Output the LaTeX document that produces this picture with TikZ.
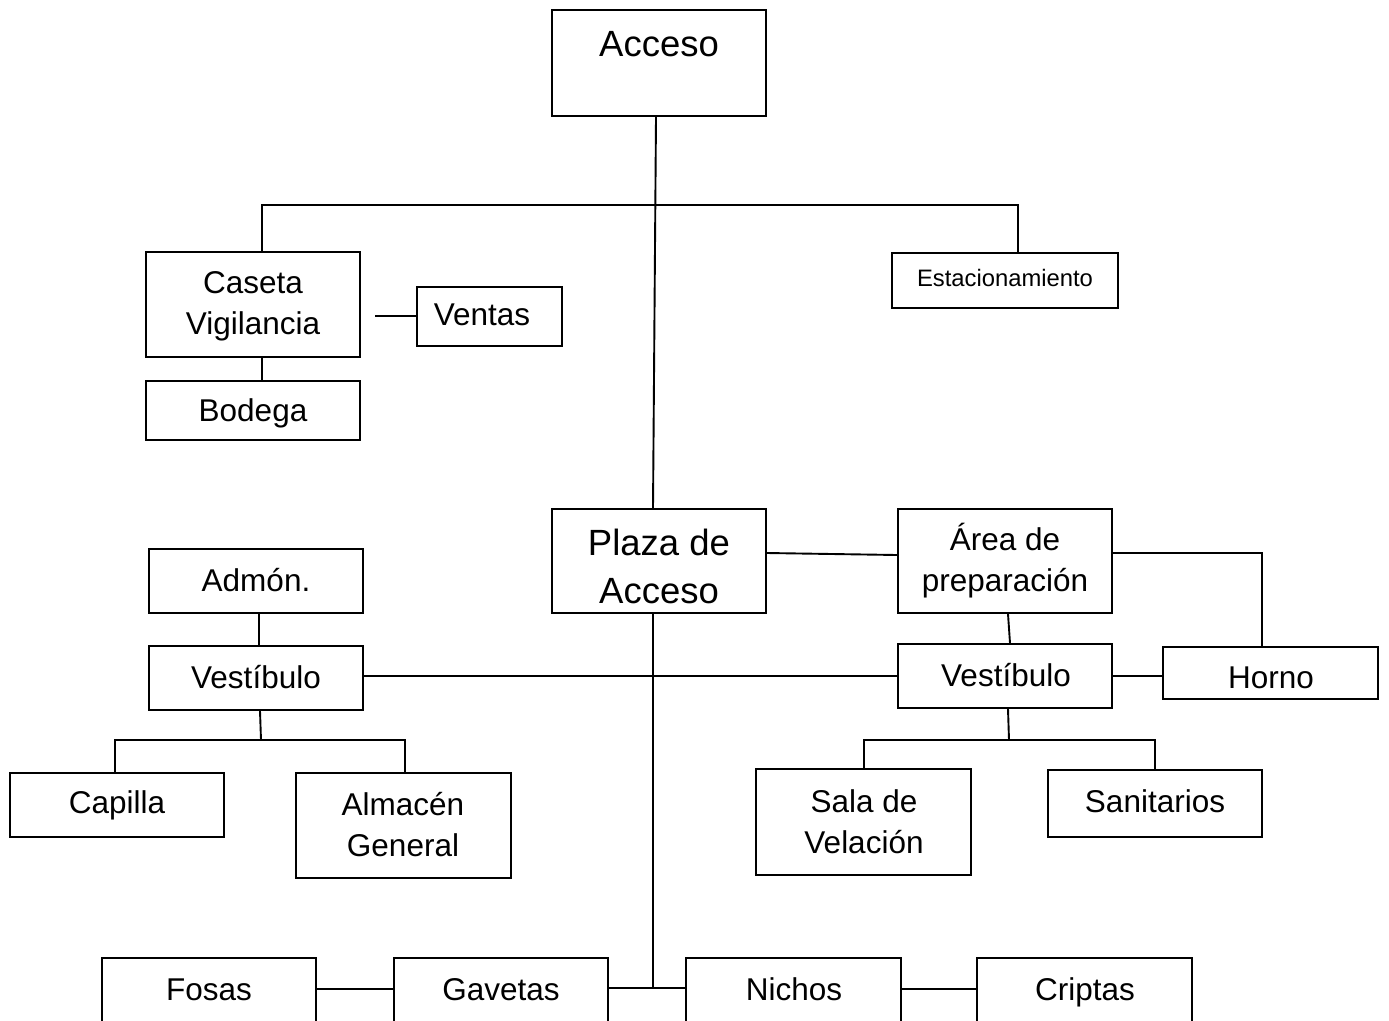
\documentclass[tikz,border=0pt]{standalone}
\usepackage{fontspec}
\setmainfont{Liberation Sans}
\usetikzlibrary{fit}
\begin{document}
\begin{tikzpicture}[x=1pt,y=-1pt,
  box/.style={draw, line width=2pt, inner sep=0pt, rectangle},
  wire/.style={line width=1.9pt},
  lbl/.style={font=\fontsize{31.5}{41}\selectfont, align=center, inner sep=0pt},
  biglbl/.style={font=\fontsize{36.5}{48}\selectfont, align=center, inner sep=0pt},
  smalllbl/.style={font=\fontsize{23.8}{29}\selectfont, inner sep=0pt}]
\useasboundingbox (0,0) rectangle (1389,1020);

% boxes
\node[box, fit={(552,10) (766,116)}] (acceso) {};
\node[box, fit={(146,252) (360,357)}] (caseta) {};
\node[box, fit={(417,287) (562,346)}] (ventas) {};
\node[box, fit={(146,381) (360,440)}] (bodega) {};
\node[box, fit={(892,253) (1118,308)}] (estac) {};
\node[box, fit={(552,509) (766,613)}] (plaza) {};
\node[box, fit={(898,509) (1112,613)}] (area) {};
\node[box, fit={(1163,647) (1378,699)}] (horno) {};
\node[box, fit={(898,644) (1112,708)}] (vesR) {};
\node[box, fit={(149,549) (363,613)}] (admon) {};
\node[box, fit={(149,646) (363,710)}] (vesL) {};
\node[box, fit={(10,773) (224,837)}] (capilla) {};
\node[box, fit={(296,773) (511,878)}] (almacen) {};
\node[box, fit={(756,769) (971,875)}] (sala) {};
\node[box, fit={(1048,770) (1262,837)}] (sanit) {};
\node[box, fit={(102,958) (316,1040)}] (fosas) {};
\node[box, fit={(394,958) (608,1040)}] (gavetas) {};
\node[box, fit={(686,958) (901,1040)}] (nichos) {};
\node[box, fit={(977,958) (1192,1040)}] (criptas) {};

% texts
\node[biglbl] (t-acceso) at (659,44) {Acceso};
\node[lbl] (t-caseta) at (253,306) {Caseta\\Vigilancia};
\node[lbl] (t-ventas) at (482,315) {Ventas};
\node[lbl] (t-bodega) at (253,413) {Bodega};
\node[smalllbl] (t-estac) at (1005,278) {Estacionamiento};
\node[biglbl] (t-plaza) at (659,566) {Plaza de\\Acceso};
\node[lbl] (t-area) at (1005,561) {Área de\\preparación};
\node[lbl] (t-admon) at (256,580) {Admón.};
\node[lbl] (t-vesL) at (256,677) {Vestíbulo};
\node[lbl] (t-vesR) at (1006,675) {Vestíbulo};
\node[lbl] (t-horno) at (1271,678) {Horno};
\node[lbl] (t-capilla) at (117,805) {Capilla};
\node[lbl] (t-almacen) at (403,825) {Almacén\\General};
\node[lbl] (t-sala) at (864,822) {Sala de\\Velación};
\node[lbl] (t-sanit) at (1155,801) {Sanitarios};
\node[lbl, anchor=base] (t-fosas) at (209,1000) {Fosas};
\node[lbl, anchor=base] (t-gavetas) at (501,1000) {Gavetas};
\node[lbl, anchor=base] (t-nichos) at (794,1000) {Nichos};
\node[lbl, anchor=base] (t-criptas) at (1085,1000) {Criptas};

% connectors
\coordinate (busL) at (262,205);
\coordinate (busR) at (1018,205);
\coordinate (ventasfree) at (375,316);
\coordinate (bot) at (653,988);
\draw[wire] ([xshift=-3pt]acceso.south) -- ([xshift=-6pt]plaza.north);
\draw[wire] (caseta.north -| busL) -- (busL) -- (busR) -- (estac.north -| busR);
\draw[wire] (ventasfree) -- (ventas.west |- ventasfree);
\draw[wire] (caseta.south -| busL) -- (bodega.north -| busL);
\draw[wire] (plaza.east |- 0,553) -- (area.west |- 0,555);
\draw[wire] (area.east |- 0,553) -| (horno.north -| 1262,0);
\draw[wire] (area.south -| 1008,0) -- (vesR.north -| 1010,0);
\draw[wire] (vesR.east |- 0,676) -- (horno.west |- 0,676);
\draw[wire] (vesL.east |- 0,676) -- (vesR.west |- 0,676);
\draw[wire] (admon.south -| 259,0) -- (vesL.north -| 259,0);
\draw[wire] ([xshift=-6pt]plaza.south) -- (bot);
\draw[wire] (vesL.south -| 260,0) -- (261,740);
\draw[wire] (capilla.north -| 115,0) |- (261,740) -| (almacen.north -| 405,0);
\draw[wire] (vesR.south -| 1008,0) -- (1009,740);
\draw[wire] (sala.north -| 864,0) |- (1009,740) -| (sanit.north -| 1155,0);
\draw[wire] (fosas.east |- 0,989) -- (gavetas.west |- 0,989);
\draw[wire] (gavetas.east |- bot) -- (nichos.west |- bot);
\draw[wire] (nichos.east |- 0,989) -- (criptas.west |- 0,989);
\end{tikzpicture}
\end{document}
